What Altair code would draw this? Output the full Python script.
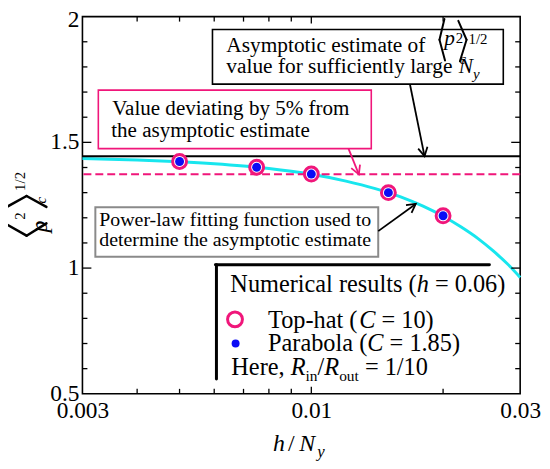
import math
import altair as alt
import pandas as pd

FONT = "Liberation Serif, Times New Roman, serif"
PINK = "#f0167a"
CYAN = "#18e6ee"
BLUE = "#0b0bf5"
GRAY = "#8a8a8a"

W, H = 441, 380
X_MIN, X_MAX = 0.003, 0.03
Y_MIN, Y_MAX = 0.5, 2.0

# ---------------- data ----------------
h_over_ny = [0.005, 0.0075, 0.01, 0.015, 0.02]
tophat_vals = [1.424, 1.401, 1.374, 1.300, 1.208]
parabola_vals = [1.424, 1.401, 1.374, 1.300, 1.208]

fit_x = [0.003, 0.004, 0.005, 0.006, 0.007, 0.008, 0.009, 0.010, 0.012,
         0.014, 0.016, 0.018, 0.020, 0.022, 0.024, 0.026, 0.028, 0.030]
fit_y = [1.436, 1.430, 1.423, 1.415, 1.406, 1.396, 1.385, 1.373, 1.346,
         1.316, 1.283, 1.246, 1.206, 1.163, 1.118, 1.069, 1.018, 0.963]

asymptote = [1.445]
deviated = [1.3728]

x_label_vals = [0.003, 0.01, 0.03]
y_label_vals = [0.5, 1.0, 1.5]
y_label_top = [2.0]
x_minor = [0.004, 0.005, 0.006, 0.007, 0.008, 0.009, 0.02]
x_major = [0.01]
y_minor = [0.6, 0.7, 0.8, 0.9, 1.1, 1.2, 1.3, 1.4, 1.6, 1.7, 1.8, 1.9]
y_major = [1.0, 1.5]

# arrows (data coordinates): start -> tip
arrow_x0 = [0.0168, 0.01216, 0.01422]
arrow_y0 = [1.731, 1.475, 1.147]
arrow_x1 = [0.01814, 0.01284, 0.01732]
arrow_y1 = [1.445, 1.3728, 1.255]
arrow_col = ["black", PINK, "black"]

# ---------------- helpers ----------------
xs = alt.Scale(type="log", domain=[X_MIN, X_MAX], nice=False)
ys = alt.Scale(domain=[Y_MIN, Y_MAX], nice=False, zero=False)
xax = alt.Axis(values=x_label_vals, format="~g", ticks=False, tickSize=0, domain=False,
               grid=False, title=None, labelFont=FONT, labelFontSize=23.5, labelPadding=5,
               labelColor="black", labelFlush=False, labelOverlap=False)
yax = alt.Axis(values=y_label_vals, ticks=False, tickSize=0, domain=False, labels=False,
               grid=False, title=None)


def X(f):
    return alt.X(f, type="quantitative", scale=xs, axis=xax)


def Y(f):
    return alt.Y(f, type="quantitative", scale=ys, axis=yax)


def px(x):
    return W * math.log10(x / X_MIN) / math.log10(X_MAX / X_MIN)


def py(y):
    return H * (Y_MAX - y) / (Y_MAX - Y_MIN)


one = pd.DataFrame({"k": [0]})

WR = {' ': 250, '(': 333, ')': 333, '=': 564, '.': 250, '/': 278, ',': 250, '-': 333,
      '%': 833, 'a': 444, 'b': 500, 'c': 444, 'd': 500, 'e': 444, 'f': 333, 'g': 500,
      'h': 500, 'i': 278, 'l': 278, 'm': 778, 'n': 500, 'o': 500, 'p': 500, 'r': 333,
      's': 389, 't': 278, 'u': 500, 'v': 500, 'w': 722, 'y': 500, 'A': 722, 'H': 722,
      'N': 722, 'P': 556, 'T': 611, 'V': 722, 'R': 667, 'C': 667}
WI = {'h': 500, 'C': 667, 'R': 611, 'N': 667, 'p': 500, 'c': 444, 'y': 444}


def twidth(s, size, italic=False):
    tab = WI if italic else WR
    return sum(tab.get(ch, WR.get(ch, 500)) for ch in s) * size / 1000.0


def txt(s, x, y, size, italic=False, color="black", align="left", baseline="alphabetic", angle=0):
    kw = dict(text=s, font=FONT, fontSize=size, fontStyle="italic" if italic else "normal",
              align=align, baseline=baseline, color=color)
    if angle:
        kw["angle"] = angle
    return alt.Chart(one).mark_text(**kw).encode(x=alt.value(x), y=alt.value(y))


def run(x, y, pieces, color="black"):
    out = []
    for s, size, italic, dy in pieces:
        lead = len(s) - len(s.lstrip(" "))
        if lead:
            x += twidth(" " * lead, size)
            s = s.lstrip(" ")
        out.append(txt(s, x, y + dy, size, italic, color))
        x += twidth(s, size, italic)
    return out


def seg(x1, y1, x2, y2, color="black", w=2.0):
    return alt.Chart(one).mark_rule(color=color, strokeWidth=w, strokeCap="round").encode(
        x=alt.value(x1), y=alt.value(y1), x2=alt.value(x2), y2=alt.value(y2))


def box(x1, y1, x2, y2, color, w=1.5):
    return alt.Chart(one).mark_rect(fill="white", stroke=color, strokeWidth=w).encode(
        x=alt.value(x1), x2=alt.value(x2), y=alt.value(y1), y2=alt.value(y2))


layers = []

# fitted curve
fit_df = pd.DataFrame({"x": fit_x, "y": fit_y})
layers.append(alt.Chart(fit_df).mark_line(color=CYAN, strokeWidth=3, interpolate="monotone")
              .encode(x=X("x"), y=Y("y")))

# reference lines
layers.append(alt.Chart(pd.DataFrame({"v": asymptote})).mark_rule(color="black", strokeWidth=2)
              .encode(y=Y("v")))
layers.append(alt.Chart(pd.DataFrame({"v": deviated})).mark_rule(color=PINK, strokeWidth=2,
                                                                  strokeDash=[8, 4])
              .encode(y=Y("v")))

# y tick labels
ylab = pd.DataFrame({"v": y_label_vals, "t": ["0.5", "1", "1.5"]})
layers.append(alt.Chart(ylab).mark_text(font=FONT, fontSize=23.5, align="right", baseline="middle",
                                        color="black")
              .encode(y=Y("v"), x=alt.value(-3), text="t:N"))
ylab2 = pd.DataFrame({"v": y_label_top, "t": ["2"]})
layers.append(alt.Chart(ylab2).mark_text(font=FONT, fontSize=23.5, align="right", baseline="middle",
                                         color="black", dy=3)
              .encode(y=Y("v"), x=alt.value(-3), text="t:N"))

# inward ticks on all four sides
for vals, ln in ((x_minor, 5), (x_major, 7)):
    d = pd.DataFrame({"v": vals})
    layers.append(alt.Chart(d).mark_rule(color="black", strokeWidth=1.3)
                  .encode(x=X("v"), y=alt.value(H), y2=alt.value(H - ln)))
    layers.append(alt.Chart(d).mark_rule(color="black", strokeWidth=1.3)
                  .encode(x=X("v"), y=alt.value(0), y2=alt.value(ln)))
for vals, ln in ((y_minor, 5), (y_major, 9)):
    d = pd.DataFrame({"v": vals})
    layers.append(alt.Chart(d).mark_rule(color="black", strokeWidth=1.3)
                  .encode(y=Y("v"), x=alt.value(0), x2=alt.value(ln)))
    layers.append(alt.Chart(d).mark_rule(color="black", strokeWidth=1.3)
                  .encode(y=Y("v"), x=alt.value(W), x2=alt.value(W - ln)))

# ---- annotation box 1 (black) ----
B1 = 21.5
layers.append(box(131, 13, 424, 68, "black", 1.6))
layers += run(145, 35.5, [("Asymptotic estimate of", B1, False, 0)])
layers.append(seg(364.7, 2.3, 359.7, 23.3))
layers.append(seg(359.7, 23.3, 365.3, 44.3))
layers.append(seg(378.7, 4.3, 387.0, 23.3))
layers.append(seg(387.0, 23.3, 380.3, 45.0))
layers.append(txt("p", 364.5, 29, B1, True))
layers.append(txt("2", 376, 27, 15))
layers.append(txt("c", 380, 48, 15, True))
layers.append(txt("1/2", 389, 28, 15))
layers += run(145, 57, [("value for sufficiently large ", B1, False, 0), ("N", B1, True, 0),
                        ("y", 15, True, 6)])

# ---- annotation box 2 (pink) ----
B2 = 21.2
layers.append(box(16, 74, 291, 133, PINK, 1.6))
layers.append(txt("Value deviating by 5% from", 30, 99, B2))
layers.append(txt("the asymptotic estimate", 29, 121.5, B2))

# ---- annotation box 3 (gray) ----
B3 = 20
layers.append(box(13, 192, 298, 242, GRAY, 2))
layers.append(txt("Power-law fitting function used to", 17, 211, B3))
layers.append(txt("determine the asymptotic estimate", 17, 231.5, B3))

# ---- arrows ----
ang = []
for a, b, c, d in zip(arrow_x0, arrow_y0, arrow_x1, arrow_y1):
    dx = px(c) - px(a)
    dy = py(d) - py(b)
    ang.append(math.degrees(math.atan2(dx, -dy)) % 360)
arr = pd.DataFrame({"x0": arrow_x0, "y0": arrow_y0, "x1": arrow_x1, "y1": arrow_y1,
                    "c": arrow_col, "ang": ang})
layers.append(alt.Chart(arr).mark_rule(strokeWidth=1.8).encode(
    x=X("x0"), y=Y("y0"), x2=alt.X2("x1"), y2=alt.Y2("y1"), color=alt.Color("c:N", scale=None)))
layers.append(alt.Chart(arr).mark_point(shape="M -0.55 1 L 0 0 L 0.55 1", filled=False, size=300,
                                        strokeWidth=1.8, opacity=1).encode(
    x=X("x1"), y=Y("y1"), angle=alt.Angle("ang:Q", scale=None), color=alt.Color("c:N", scale=None)))

# ---- numerical results ----
pts = pd.DataFrame({"x": h_over_ny, "top": tophat_vals, "par": parabola_vals})
layers.append(alt.Chart(pts).mark_circle(fill="white", stroke=PINK, strokeWidth=3, size=196, opacity=1)
              .encode(x=X("x"), y=Y("top")))
layers.append(alt.Chart(pts).mark_circle(color=BLUE, size=81, opacity=1)
              .encode(x=X("x"), y=Y("par")))

# ---- legend ----
L = 24.5
layers.append(seg(134, 250, 410, 250, "black", 3))
layers.append(seg(135, 250, 135, 365, "black", 3))
layers += run(149, 277.3, [("Numerical results (", L, False, 0), ("h", L, True, 0),
                           (" = 0.06)", L, False, 0)])
layers.append(alt.Chart(one).mark_circle(fill="white", stroke=PINK, strokeWidth=3, size=225, opacity=1)
              .encode(x=alt.value(153.7), y=alt.value(305)))
layers.append(alt.Chart(one).mark_circle(color=BLUE, size=64, opacity=1)
              .encode(x=alt.value(154.3), y=alt.value(329.3)))
layers += run(187, 314, [("Top-hat (", L, False, 0), ("C", L, True, 0), (" = 10)", L, False, 0)])
layers += run(187, 337.3, [("Parabola (", L, False, 0), ("C", L, True, 0), (" = 1.85)", L, False, 0)])
layers += run(150, 360.7, [("Here, ", L, False, 0), ("R", L, True, 0), ("in", 15.5, False, 6),
                           ("/", L, False, 0), ("R", L, True, 0), ("out", 15.5, False, 6),
                           (" = 1/10", L, False, 0)])

# ---- x axis title ----
layers.append(txt("h", 192, 438, 24, True))
layers.append(txt("/", 207, 438, 24))
layers.append(txt("N", 218.5, 438, 24, True))
layers.append(txt("y", 236.5, 444, 17, True))

# ---- y axis title (rotated) ----
layers.append(seg(-78, 192.7, -56.3, 180.7, "black", 2.5))
layers.append(seg(-56.3, 180.7, -36.3, 191.7, "black", 2.5))
layers.append(seg(-78, 208.3, -56.3, 220.7, "black", 2.5))
layers.append(seg(-56.3, 220.7, -36.3, 208.3, "black", 2.5))
layers.append(txt("p", -43, 211.5, 24, True, align="center", baseline="middle", angle=270))
layers.append(txt("2", -63, 201, 15, align="center", baseline="middle", angle=270))
layers.append(txt("c", -41.3, 185, 15, True, align="center", baseline="middle", angle=270))
layers.append(txt("1/2", -62.5, 166, 15, align="center", baseline="middle", angle=270))

chart = alt.layer(*layers).properties(
    width=W, height=H,
    padding={"left": 75, "top": 7, "right": 22, "bottom": 66},
    autosize=alt.AutoSizeParams(type="none"),
    background="white",
).configure_view(stroke="black", strokeWidth=1.6)

chart.save("out.html", embed_options={"renderer": "svg", "actions": False})
